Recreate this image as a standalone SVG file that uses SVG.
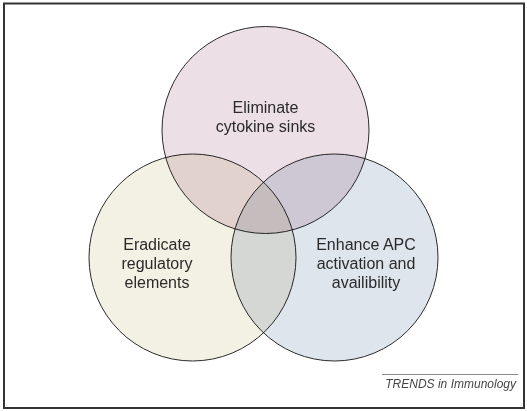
<svg xmlns="http://www.w3.org/2000/svg" width="527" height="411" viewBox="0 0 527 411">
<style>
.c{stroke:#2a2a2a;stroke-width:1;mix-blend-mode:multiply}
.t{font-family:"Liberation Sans",Arial,sans-serif;font-size:16px;fill:#2a2a2a;text-anchor:middle}
.f{font-family:"Liberation Sans",Arial,sans-serif;font-size:12px;font-style:italic;fill:#444;text-anchor:end}
</style>
<rect x="0" y="0" width="527" height="411" fill="#fff"/>
<rect x="4" y="3.5" width="520" height="404.5" fill="#fff" stroke="#333" stroke-width="2"/>
<g style="isolation:isolate">
<g id="top"><circle class="c" cx="265.5" cy="130" r="103.5" fill="#ecdfe6"/></g>
<g id="left"><circle class="c" cx="192.5" cy="257.5" r="103.5" fill="#f3f0e4"/></g>
<g id="right"><circle class="c" cx="334.5" cy="257.5" r="103.5" fill="#dfe5ec"/></g>
</g>
<g id="labels">
<text class="t" x="265.5" y="113">Eliminate</text>
<text class="t" x="265.5" y="132">cytokine sinks</text>
<text class="t" x="157" y="250">Eradicate</text>
<text class="t" x="157" y="269">regulatory</text>
<text class="t" x="157" y="288">elements</text>
<text class="t" x="366" y="250">Enhance APC</text>
<text class="t" x="366" y="269">activation and</text>
<text class="t" x="366" y="288">availibility</text>
</g>
<g id="connectors"></g>
<line x1="382" y1="374.5" x2="518" y2="374.5" stroke="#888" stroke-width="1"/>
<text class="f" x="516" y="388">TRENDS in Immunology</text>
</svg>
